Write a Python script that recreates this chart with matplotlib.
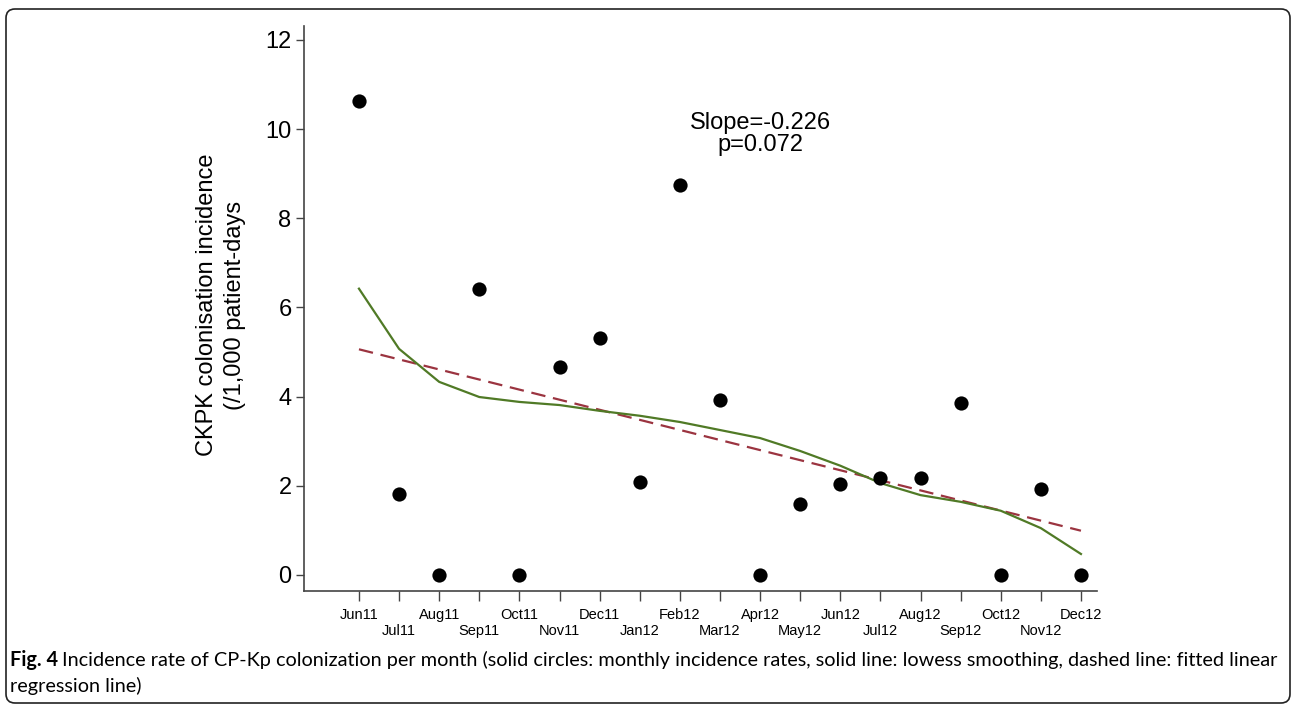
import matplotlib
matplotlib.use("Agg")
import matplotlib.pyplot as plt
from matplotlib.patches import FancyBboxPatch
import numpy as np

months = ["Jun11", "Jul11", "Aug11", "Sep11", "Oct11", "Nov11", "Dec11",
          "Jan12", "Feb12", "Mar12", "Apr12", "May12", "Jun12", "Jul12",
          "Aug12", "Sep12", "Oct12", "Nov12", "Dec12"]
incidence = [10.63, 1.82, 0.0, 6.42, 0.0, 4.67, 5.32, 2.09, 8.75, 3.93,
             0.0, 1.59, 2.04, 2.18, 2.18, 3.86, 0.0, 1.93, 0.0]
lowess = [6.42, 5.07, 4.33, 3.99, 3.88, 3.81, 3.68, 3.57, 3.43, 3.25,
          3.07, 2.78, 2.45, 2.06, 1.79, 1.64, 1.44, 1.05, 0.47]
fit_intercept = 5.06
fit_slope = -0.226
annot = "Slope=-0.226\np=0.072"
ylabel = "CKPK colonisation incidence\n(/1,000 patient-days"
y_ticks = [0, 2, 4, 6, 8, 10, 12]
cap_bold = "Fig. 4"
cap_line1 = ("Incidence rate of CP-Kp colonization per month (solid circles: monthly "
             "incidence rates, solid line: lowess smoothing, dashed line: fitted linear")
cap_line2 = "regression line)"

W, H = 1292, 706
fig = plt.figure(figsize=(W / 100, H / 100), dpi=100)

main_font = "Liberation Sans"
cap_font = "Lato"

left, right, top, bottom = 304, 1097, 26, 591
ax = fig.add_axes([left / W, 1 - bottom / H, (right - left) / W, (bottom - top) / H])

x = np.arange(len(months))
fit = fit_intercept + fit_slope * x

ax.plot(x, fit, color="#9B3440", lw=1.6, dashes=(6.5, 3.5), zorder=2)
ax.plot(x, lowess, color="#507A26", lw=1.6, zorder=3)
ax.scatter(x, incidence, s=105, color="black", zorder=4, linewidths=0)

ax.set_xlim(-1.37, 18.4)
ax.set_ylim(-0.36, 12.31)
ax.set_yticks(y_ticks)
ax.set_yticklabels([str(v) for v in y_ticks], fontsize=17, family=main_font)
ax.set_xticks(x)
ax.set_xticklabels(months, fontsize=10.5, family=main_font)

for s in ["top", "right"]:
    ax.spines[s].set_visible(False)
for s in ["left", "bottom"]:
    ax.spines[s].set_color("#444444")
    ax.spines[s].set_linewidth(1.2)

ax.tick_params(axis="y", length=6, width=1.0, color="#444444", pad=3)
ax.tick_params(axis="x", length=7, width=1.0, color="#444444", pad=5)
for i, t in enumerate(ax.xaxis.get_major_ticks()):
    t.set_pad(5 if i % 2 == 0 else 17)

ax.text(10.0, 9.88, annot, ha="center", va="center", fontsize=17,
        family=main_font, linespacing=1.0)

fig.text(221 / W, 1 - 305 / H, ylabel, rotation=90, ha="center", va="center",
         fontsize=17, family=main_font, multialignment="center", linespacing=1.4)

# caption, sized so that line 1 spans the same width as in the reference
cap_y1 = 1 - 660 / H
cap_y2 = 1 - 686 / H
x0, x_end = 10, 1276


def draw_caption(size):
    t1 = fig.text(x0 / W, cap_y1, cap_bold, fontsize=size, family=cap_font,
                  weight="bold", va="center", ha="left")
    fig.canvas.draw()
    bb = t1.get_window_extent()
    t2 = fig.text((bb.x1 + 0.3 * size) / W, cap_y1, cap_line1, fontsize=size,
                  family=cap_font, va="center", ha="left")
    t3 = fig.text(x0 / W, cap_y2, cap_line2, fontsize=size, family=cap_font,
                  va="center", ha="left")
    fig.canvas.draw()
    return [t1, t2, t3], t2.get_window_extent().x1


texts, xe = draw_caption(13)
new_size = 13 * (x_end - x0) / (xe - x0)
for t in texts:
    t.remove()
draw_caption(new_size)

box = FancyBboxPatch((0.06, 0.03), 12.84, 6.94,
                     boxstyle="round,pad=0,rounding_size=0.09",
                     transform=fig.dpi_scale_trans, fill=False,
                     edgecolor="#222222", lw=1.2)
fig.patches.append(box)

fig.savefig("out.png", dpi=100)
